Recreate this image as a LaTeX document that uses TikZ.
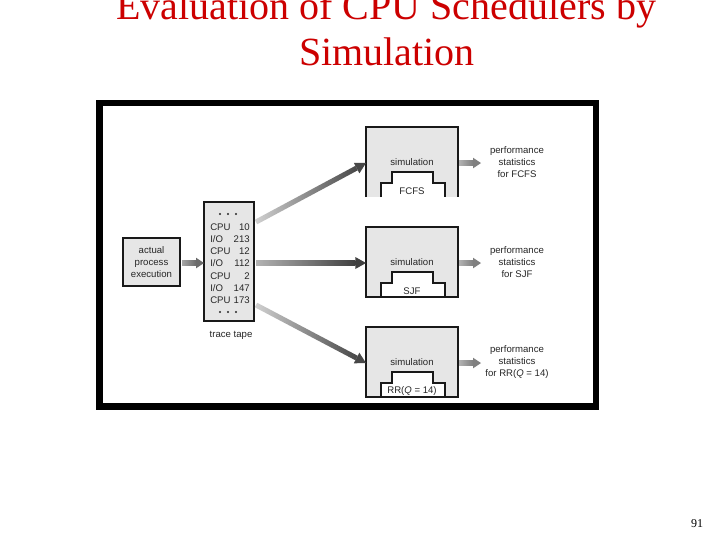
\documentclass[tikz,border=0pt]{standalone}
\usepackage{fontspec}
\setmainfont{Liberation Serif}
\newfontfamily\labfont{Liberation Sans}
\usetikzlibrary{calc}
\definecolor{titlered}{RGB}{204,0,0}
\definecolor{boxgray}{RGB}{230,230,230}
\definecolor{lineblack}{RGB}{25,25,25}

% gradient arrow: #1 start, #2 end, #3 start colour, #4 end colour,
% #5 half shaft width, #6 head length, #7 half head width
\newcommand\gradarrow[7]{%
  \coordinate (ga-p) at ($(#2)!#6!(#1)$);
  \shade[left color=#3, right color=#4]
    ($(#1)!#5!90:(ga-p)$) -- ($(ga-p)!#5!-90:(#1)$) --
    ($(ga-p)!#5!90:(#1)$) -- ($(#1)!#5!-90:(ga-p)$) -- cycle;
  \fill[#4] (#2) -- ($(ga-p)!#7!90:(#2)$) -- ($(ga-p)!#7!-90:(#2)$) -- cycle;
}

\tikzset{
  lab/.style={font=\labfont\fontsize{7.2pt}{9pt}\selectfont, align=center, inner sep=0pt, text=black!85},
  title/.style={font=\fontsize{30pt}{36pt}\selectfont, text=titlered, anchor=base, inner sep=0pt},
  graybox/.style={fill=boxgray, draw=lineblack, line width=0.8pt},
  stepshape/.style={fill=white, draw=lineblack, line width=0.8pt},
}

\begin{document}
\begin{tikzpicture}[x=0.75pt, y=-0.75pt]
\useasboundingbox (0,0) rectangle (720,540);
\clip (0,0) rectangle (720,540);
\fill[white] (0,0) rectangle (720,540);

% title
\node[title] (t1) at (386,19) {Evaluation of CPU Schedulers by};
\node[title] (t2) at (387,65) {Simulation};

% frame
\draw[line width=5pt, black] (99.5,103) rectangle (596,406.5);

% actual process execution
\draw[graybox] (123,238) rectangle (180,286);
\node[lab] (act) at (151.5,262) {actual\\process\\execution};
\coordinate (actE) at (182,263);

% trace tape
\draw[graybox] (204,202) rectangle (254,321);
\coordinate (tapeW) at (204,263);
\foreach \x in {220,228,236}{
  \fill[black!85] (\x,214) circle (1.1);
  \fill[black!85] (\x,312) circle (1.1);
}
\foreach \i/\a/\b in {0/CPU/10,1/{I/O}/213,2/CPU/12,3/{I/O}/112,4/CPU/2,5/{I/O}/147,6/CPU/173}{
  \node[lab, anchor=base west] (tl\i) at (210,{230.3+12.22*\i}) {\a};
  \node[lab, anchor=base east] (tr\i) at (250,{230.3+12.22*\i}) {\b};
}
\node[lab] (tape) at (231,335) {trace tape};

% simulation box 1 (open at the bottom)
\fill[boxgray] (366,127) rectangle (458,197);
\draw[lineblack, line width=0.8pt] (366,197) -- (366,127) -- (458,127) -- (458,197);
\fill[white] (381,197) -- (381,183) -- (392,183) -- (392,172) -- (433,172) -- (433,183) -- (445,183) -- (445,197) -- cycle;
\draw[lineblack, line width=0.8pt] (381,197) -- (381,183) -- (392,183) -- (392,172) -- (433,172) -- (433,183) -- (445,183) -- (445,197);
\node[lab] (sim1) at (412,162) {simulation};
\node[lab] (alg1) at (412,191) {FCFS};

% simulation box 2
\draw[graybox] (366,227) rectangle (458,297);
\draw[stepshape] (381,297) -- (381,283) -- (392,283) -- (392,272) -- (433,272) -- (433,283) -- (445,283) -- (445,297) -- cycle;
\node[lab] (sim2) at (412,262) {simulation};
\node[lab] (alg2) at (412,291) {SJF};

% simulation box 3
\draw[graybox] (366,327) rectangle (458,397);
\draw[stepshape] (381,397) -- (381,383) -- (392,383) -- (392,372) -- (433,372) -- (433,383) -- (445,383) -- (445,397) -- cycle;
\node[lab] (sim3) at (412,362) {simulation};
\node[lab] (alg3) at (412,391.5) {RR(\textit{Q} = 14)};

% statistics
\node[lab] (st1) at (517,162) {performance\\statistics\\for FCFS};
\node[lab] (st2) at (517,262) {performance\\statistics\\for SJF};
\node[lab] (st3) at (517,362) {performance\\statistics\\for RR(\textit{Q} = 14)};

% connector end points
\coordinate (tapeA) at (256,222);
\coordinate (tapeB) at (256,263);
\coordinate (tapeC) at (256,305);
\coordinate (box1W) at (366,163);
\coordinate (box2W) at (366,263);
\coordinate (box3W) at (366,363);
\coordinate (box1E) at (459,163);
\coordinate (box2E) at (459,263);
\coordinate (box3E) at (459,363);
\coordinate (st1W) at (481,163);
\coordinate (st2W) at (481,263);
\coordinate (st3W) at (481,363);

% arrows
\gradarrow{actE}{tapeW}{black!35}{black!58}{1.8pt}{6pt}{4pt}
\gradarrow{tapeA}{box1W}{black!18}{black!72}{1.9pt}{8pt}{4.5pt}
\gradarrow{tapeB}{box2W}{black!30}{black!75}{1.9pt}{8pt}{4.5pt}
\gradarrow{tapeC}{box3W}{black!18}{black!72}{1.9pt}{8pt}{4.5pt}
\gradarrow{box1E}{st1W}{black!30}{black!50}{1.6pt}{6pt}{4pt}
\gradarrow{box2E}{st2W}{black!30}{black!50}{1.6pt}{6pt}{4pt}
\gradarrow{box3E}{st3W}{black!30}{black!50}{1.6pt}{6pt}{4pt}

% page number
\node[font=\fontsize{9pt}{11pt}\selectfont, anchor=base, inner sep=0pt] (pg) at (697,527) {91};
\end{tikzpicture}
\end{document}
